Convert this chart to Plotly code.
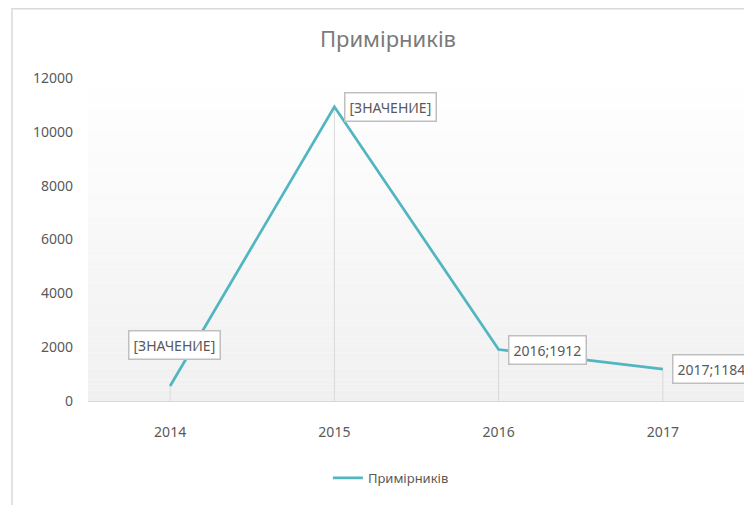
import plotly.graph_objects as go

years = ["2014", "2015", "2016", "2017"]
values = [560, 10930, 1912, 1184]
labels = ["[ЗНАЧЕНИЕ]", "[ЗНАЧЕНИЕ]", "2016;1912", "2017;1184"]
series_name = "Примірників"
title_text = "Примірників"
y_ticks = [0, 2000, 4000, 6000, 8000, 10000, 12000]

FONT = "Noto Sans"
TXT = "#595959"

fig = go.Figure()

# drop lines (behind the main line)
fig.add_trace(go.Scatter(
    x=years, y=values, mode="markers",
    marker=dict(size=1, opacity=0),
    error_y=dict(type="data", symmetric=False, array=[0] * len(values),
                 arrayminus=values, width=0, thickness=1, color="#d9d9d9"),
    showlegend=False, hoverinfo="skip",
))

fig.add_trace(go.Scatter(
    x=years, y=values, mode="lines", name=series_name,
    line=dict(color="#52b6c1", width=2.75),
))

# label annotations
offsets = [dict(xanchor="center", xshift=4, yshift=41),
           dict(xanchor="left", xshift=10, yshift=0),
           dict(xanchor="left", xshift=9, yshift=0),
           dict(xanchor="left", xshift=9, yshift=0)]
annotations = []
for i, (yr, v, t, o) in enumerate(zip(years, values, labels, offsets)):
    annotations.append(dict(x=i, y=v, xref="x", yref="y", text=t,
                            showarrow=False,
                            font=dict(family=FONT, size=14, color=TXT),
                            bgcolor="white", bordercolor="#bfbfbf",
                            borderwidth=1.5, borderpad=4, yanchor="middle", **o))

# gradient background of plot area
shapes = []
n = 60
for i in range(n):
    f = i / (n - 1)
    c = int(round(240 + (255 - 240) * f))
    shapes.append(dict(type="rect", xref="paper", yref="paper",
                       x0=0, x1=1, y0=i / n, y1=(i + 1) / n,
                       fillcolor=f"rgb({c},{c},{c})", line=dict(width=0),
                       layer="below"))
# outer chart border (top edge as close to the top as possible)
shapes.append(dict(type="rect", xref="paper", yref="paper",
                   x0=-0.1157, x1=1.3, y0=-0.5, y1=(323 + 69.2) / 323,
                   line=dict(color="#d9d9d9", width=1.5), layer="above"))

fig.update_layout(
    width=752, height=505,
    margin=dict(l=80, r=15, t=70, b=112),
    paper_bgcolor="white", plot_bgcolor="white",
    font=dict(family=FONT, color=TXT),
    title=dict(text=title_text, x=0.4566, xref="paper", xanchor="center",
               y=1 - 31 / 505, yref="container", yanchor="middle",
               font=dict(family=FONT, size=22, color="#7a7a7a")),
    shapes=shapes,
    annotations=annotations,
    showlegend=True,
    legend=dict(orientation="h", x=0.461, xanchor="center", y=-0.238,
                yanchor="middle", font=dict(family=FONT, size=13, color=TXT),
                bgcolor="rgba(0,0,0,0)"),
    xaxis=dict(type="category", range=[-0.5, 3.5], showgrid=False,
               showline=True, linecolor="#d9d9d9", linewidth=1,
               ticks="", ticklabelstandoff=18,
               tickfont=dict(family=FONT, size=14, color=TXT), zeroline=False),
    yaxis=dict(range=[0, 12000], tickvals=y_ticks, tickformat="d",
               showgrid=False, showline=False, zeroline=False, ticks="",
               ticklabelstandoff=14,
               tickfont=dict(family=FONT, size=14, color=TXT)),
)

fig.write_html("out.html")
